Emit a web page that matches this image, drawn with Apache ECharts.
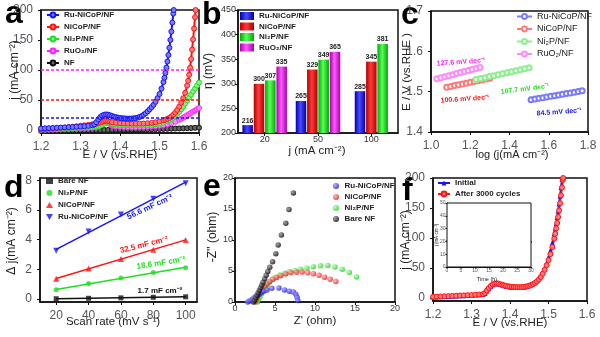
<!DOCTYPE html>
<html>
<head>
<meta charset="utf-8">
<script src="https://cdn.jsdelivr.net/npm/echarts@6/dist/echarts.min.js"></script>
<style>
  html, body { margin: 0; padding: 0; background: #fff; }
  #chart { width: 600px; height: 337px; }
</style>
</head>
<body>
<div id="chart"></div>
<script>
// ---------- (a) OER polarization curves: [E / V vs RHE, j / mA cm-2] ----------
const lsvRuNiCoP = [[1.20,2.5],[1.21,2.8],[1.22,3.1],[1.23,3.4],[1.24,3.7],[1.25,4.0],[1.26,4.3],[1.27,4.6],[1.28,5.0],[1.29,5.4],[1.30,5.8],[1.31,6.3],[1.32,6.9],[1.33,7.8],[1.335,9.5],[1.34,13],[1.345,17.5],[1.35,21.5],[1.355,24],[1.36,25.5],[1.365,26],[1.37,25.5],[1.375,24.5],[1.38,23.3],[1.385,22.2],[1.39,21.3],[1.395,20.6],[1.40,20],[1.405,19.6],[1.41,19.3],[1.415,19.1],[1.42,19],[1.425,19],[1.43,19.1],[1.435,19.4],[1.44,19.9],[1.445,20.7],[1.45,21.8],[1.455,23.3],[1.46,25.3],[1.465,27.8],[1.47,31],[1.475,34.5],[1.48,38],[1.485,42],[1.49,47],[1.495,53],[1.50,60],[1.505,69],[1.51,80],[1.5125,87],[1.515,95],[1.5175,104],[1.52,114],[1.5225,125],[1.525,137],[1.5275,150],[1.53,164],[1.5325,179],[1.535,194],[1.536,200]];
const lsvNiCoP = [[1.20,1.0],[1.21,1.5],[1.22,2.0],[1.23,2.5],[1.24,3.0],[1.25,3.6],[1.26,4.2],[1.27,4.8],[1.28,5.5],[1.29,6.2],[1.30,7.0],[1.31,7.8],[1.32,8.6],[1.33,9.5],[1.34,10.5],[1.345,11.5],[1.35,12.5],[1.355,13.6],[1.36,14.5],[1.365,15.0],[1.37,14.6],[1.375,13.8],[1.38,13.0],[1.39,12.0],[1.40,11.3],[1.41,11.0],[1.42,10.7],[1.43,10.6],[1.44,10.5],[1.45,10.6],[1.46,10.8],[1.47,11.2],[1.48,11.8],[1.49,12.8],[1.50,14.2],[1.51,16.0],[1.515,17.2],[1.52,18.5],[1.525,20.2],[1.53,22.5],[1.535,25.5],[1.54,29],[1.545,33.5],[1.55,39],[1.555,45.5],[1.56,53],[1.565,62],[1.57,74],[1.5725,82],[1.575,92],[1.5775,104],[1.58,118],[1.5825,134],[1.585,151],[1.5875,169],[1.59,188],[1.5915,200]];
const lsvNi2P = [[1.20,0.5],[1.21,0.7],[1.22,1.0],[1.23,1.3],[1.24,1.6],[1.25,1.9],[1.26,2.3],[1.27,2.6],[1.28,3.0],[1.29,3.4],[1.30,3.8],[1.31,4.2],[1.32,4.6],[1.33,5.0],[1.34,5.5],[1.345,6.2],[1.35,7.2],[1.355,8.8],[1.36,10.5],[1.365,11.8],[1.37,12.2],[1.375,11.4],[1.38,10.3],[1.385,9.6],[1.39,9.1],[1.40,8.6],[1.41,8.3],[1.42,8.1],[1.43,7.9],[1.44,7.8],[1.45,7.8],[1.46,8.0],[1.47,8.3],[1.48,8.8],[1.49,9.5],[1.50,10.5],[1.51,12.0],[1.52,14.5],[1.525,16.2],[1.53,18.3],[1.535,20.8],[1.54,23.6],[1.545,26.8],[1.55,30.5],[1.555,34.6],[1.56,39.2],[1.565,44],[1.57,49],[1.575,54],[1.58,59],[1.585,64],[1.59,69],[1.595,74],[1.60,79]];
const lsvRuO2 = [[1.20,0.3],[1.21,0.5],[1.22,0.7],[1.23,0.9],[1.24,1.1],[1.25,1.3],[1.26,1.5],[1.27,1.8],[1.28,2.0],[1.29,2.3],[1.30,2.6],[1.31,2.9],[1.32,3.2],[1.33,3.6],[1.34,4.5],[1.345,7.5],[1.35,12],[1.355,16],[1.36,18],[1.365,17],[1.37,13.5],[1.375,9.5],[1.38,7.2],[1.385,6.3],[1.39,5.8],[1.40,5.3],[1.41,5.0],[1.42,4.8],[1.43,4.7],[1.44,4.7],[1.45,4.8],[1.46,5.0],[1.47,5.3],[1.48,5.8],[1.49,6.3],[1.50,7.0],[1.51,8.0],[1.52,9.3],[1.53,11.2],[1.54,13.8],[1.55,17.0],[1.555,18.8],[1.56,20.7],[1.565,22.6],[1.57,24.6],[1.575,26.6],[1.58,28.6],[1.585,30.6],[1.59,32.6],[1.595,34.6],[1.60,36.6]];
const lsvNF = [[1.20,-1.5],[1.21,-1.4],[1.22,-1.3],[1.23,-1.2],[1.24,-1.1],[1.25,-1.0],[1.26,-0.9],[1.27,-0.8],[1.28,-0.7],[1.29,-0.6],[1.30,-0.5],[1.31,-0.4],[1.32,-0.3],[1.33,-0.2],[1.34,-0.1],[1.35,0.0],[1.36,0.1],[1.37,0.2],[1.38,0.3],[1.39,0.4],[1.40,0.5],[1.41,0.6],[1.42,0.7],[1.43,0.8],[1.44,0.9],[1.45,1.0],[1.46,1.1],[1.47,1.2],[1.48,1.35],[1.49,1.5],[1.50,1.65],[1.51,1.8],[1.52,2.0],[1.53,2.2],[1.54,2.4],[1.55,2.6],[1.56,2.8],[1.57,3.0],[1.58,3.3],[1.59,3.6],[1.60,3.9]];
const guideLevels = [100, 50, 20];

// ---------- (b) overpotentials at 20 / 50 / 100 mA cm-2 ----------
const currentLevels = ['20', '50', '100'];
const etaRuNiCoP = [216, 265, 285];
const etaNiCoP = [300, 329, 345];
const etaNi2P = [307, 349, 381];
const etaRuO2 = [335, 365, null];

// ---------- (c) Tafel plots: [log j, E] ----------
const tafelRuNiCoP = [[1.51,1.4800],[1.53,1.4817],[1.55,1.4834],[1.57,1.4851],[1.59,1.4868],[1.61,1.4885],[1.63,1.4901],[1.65,1.4918],[1.67,1.4935],[1.69,1.4952],[1.71,1.4969],[1.73,1.4986],[1.75,1.5003],[1.77,1.5020]];
const tafelNiCoP = [[1.08,1.5110],[1.10,1.5130],[1.12,1.5150],[1.14,1.5170],[1.16,1.5190],[1.18,1.5211],[1.20,1.5231],[1.22,1.5251],[1.24,1.5271],[1.26,1.5291],[1.28,1.5311],[1.30,1.5331]];
const tafelNi2P = [[1.23,1.5300],[1.2525,1.5324],[1.275,1.5348],[1.2975,1.5373],[1.32,1.5397],[1.3425,1.5421],[1.365,1.5445],[1.3875,1.5470],[1.41,1.5494],[1.4325,1.5518],[1.455,1.5542],[1.4775,1.5567],[1.50,1.5591]];
const tafelRuO2 = [[1.03,1.5320],[1.05,1.5346],[1.07,1.5371],[1.09,1.5397],[1.11,1.5422],[1.13,1.5448],[1.15,1.5473],[1.17,1.5499],[1.19,1.5524],[1.21,1.5550],[1.23,1.5575],[1.25,1.5601]];
const tafelSlopes = ['84.5', '100.6', '107.7', '127.6'];

// ---------- (d) double-layer capacitance ----------
const scanRates = [20, 40, 60, 80, 100];
const djBareNF = [0.02, 0.05, 0.08, 0.12, 0.15];
const djNi2P = [0.62, 1.04, 1.42, 1.78, 2.10];
const djNiCoP = [1.36, 2.06, 2.70, 3.32, 3.98];
const djRuNiCoP = [3.25, 4.55, 5.70, 6.75, 7.80];
const cdlValues = [1.7, 18.6, 32.5, 56.6]; // mF cm-2: Bare NF, Ni2P, NiCoP, Ru-NiCoP

// ---------- (e) Nyquist plots: [Z', -Z''] ----------
const eisRuNiCoP = [[1.6,0.0],[1.8,0.15],[2.0,0.3],[2.2,0.5],[2.4,0.7],[2.6,0.9],[2.8,1.1],[3.0,1.3],[3.3,1.55],[3.6,1.75],[4.0,1.95],[4.6,2.2],[5.5,2.25],[6.2,1.95],[6.8,1.75],[7.3,1.6],[7.6,1.25],[7.75,0.75],[7.85,0.25]];
const eisNiCoP = [[2.5,0.0],[2.65,0.4],[2.8,0.8],[3.0,1.25],[3.2,1.7],[3.45,2.15],[3.7,2.55],[4.0,2.95],[4.35,3.3],[4.75,3.65],[5.2,3.95],[5.75,4.25],[6.35,4.5],[7.0,4.7],[7.7,4.8],[8.4,4.85],[9.1,4.7],[9.8,4.55],[10.5,4.3],[11.2,4.0],[11.9,3.65],[12.6,3.3]];
const eisNi2P = [[2.8,0.0],[2.95,0.4],[3.1,0.8],[3.3,1.3],[3.5,1.8],[3.75,2.3],[4.0,2.75],[4.3,3.2],[4.7,3.65],[5.1,4.0],[5.6,4.35],[6.2,4.65],[6.8,4.9],[7.5,5.1],[8.2,5.3],[9.0,5.5],[9.8,5.7],[10.7,5.85],[11.6,5.9],[12.5,5.65],[13.4,5.3],[14.3,4.75],[15.2,4.05]];
const eisBareNF = [[2.3,0.0],[2.45,0.3],[2.6,0.7],[2.75,1.1],[2.9,1.5],[3.05,1.9],[3.2,2.3],[3.35,2.75],[3.5,3.2],[3.7,3.75],[3.9,4.3],[4.1,4.9],[4.35,5.6],[4.7,6.5],[5.1,7.8],[5.4,9.2],[5.8,10.8],[6.35,12.7],[6.75,14.9],[7.3,17.6]];

// ---------- (f) stability: LSV before / after 3000 cycles ----------
const lsvInitial = [[1.20,1.5],[1.21,1.8],[1.22,2.1],[1.23,2.4],[1.24,2.7],[1.25,3.0],[1.26,3.3],[1.27,3.6],[1.28,3.9],[1.29,4.2],[1.30,4.5],[1.31,4.9],[1.32,5.3],[1.33,6.0],[1.335,7.5],[1.34,11.5],[1.345,15.5],[1.35,19.5],[1.355,22],[1.36,23.5],[1.365,24],[1.37,23.5],[1.375,22.5],[1.38,21.5],[1.385,20.5],[1.39,19.7],[1.395,19.0],[1.40,18.5],[1.405,18.1],[1.41,17.8],[1.415,17.6],[1.42,17.5],[1.425,17.5],[1.43,17.7],[1.435,18.0],[1.44,18.6],[1.445,19.4],[1.45,20.5],[1.455,22],[1.46,23.8],[1.465,26],[1.47,29],[1.475,32.8],[1.48,37.5],[1.485,43.5],[1.49,50.5],[1.495,58.5],[1.50,68],[1.505,79],[1.51,92],[1.515,107],[1.5175,115.5],[1.52,124.5],[1.5225,134],[1.525,145],[1.5275,157],[1.53,170],[1.5325,184],[1.535,198],[1.5353,200]];
const lsvCycled = [[1.20,2.0],[1.21,2.3],[1.22,2.6],[1.23,2.9],[1.24,3.2],[1.25,3.5],[1.26,3.8],[1.27,4.1],[1.28,4.4],[1.29,4.7],[1.30,5.0],[1.31,5.4],[1.32,5.8],[1.33,6.5],[1.335,8.5],[1.34,12.5],[1.345,16.5],[1.35,20],[1.355,22.5],[1.36,24],[1.365,24.5],[1.37,24],[1.375,23],[1.38,22],[1.385,21],[1.39,20.2],[1.395,19.5],[1.40,19],[1.405,18.6],[1.41,18.3],[1.415,18.1],[1.42,18],[1.425,18],[1.43,18.1],[1.435,18.4],[1.44,18.9],[1.445,19.6],[1.45,20.5],[1.455,21.8],[1.46,23.3],[1.465,25.2],[1.47,27.5],[1.475,31],[1.48,35],[1.485,40.5],[1.49,47],[1.495,54.5],[1.50,63],[1.505,73],[1.51,85],[1.515,99],[1.5175,107],[1.52,116],[1.5225,125],[1.525,135],[1.5275,146],[1.53,158],[1.5325,171],[1.535,184],[1.5375,197],[1.538,200]];
const stabilityHours = [0,1,2,3,4,5,6,7,8,9,10,11,12,13,14,15,16,17,18,19,20,21,22,23,24,25,26,27,28,29,30];
const stabilityJ = [20.1,20.3,20.2,20.4,20.3,20.2,20.3,20.1,20.2,20.0,20.1,19.9,20.0,20.1,19.9,20.0,19.8,19.9,19.7,19.8,19.8,19.7,19.6,19.7,19.6,19.7,19.8,19.7,19.6,19.7,19.6];

// ---------- styling ----------
const FONT = "'Liberation Sans', Arial, Helvetica, sans-serif";
const COL = { blue: '#1414ff', red: '#ff1414', green: '#1ee01e', magenta: '#ff1eff', black: '#111111' };
const FILL = { blue: '#7a7aff', red: '#ff7a7a', green: '#8af08a', magenta: '#ff8aff', black: '#666666' };
const NAME = { ru: 'Ru-NiCoP/NF', nicop: 'NiCoP/NF', ni2p: 'Ni\u2082P/NF', ruo2: 'RuO\u2082/NF', nf: 'NF', bare: 'Bare NF' };
const TICK_FONT = 9;
const J_UNIT = 'j (mA cm\u207B\u00B2)';
const E_UNIT = 'E / V (vs.RHE)';

const chart = echarts.init(document.getElementById('chart'), null, { renderer: 'canvas' });

function grid(left, top, width, height, extra) {
  return Object.assign({ left, top, width, height, show: true, borderColor: '#111', borderWidth: 1.5, backgroundColor: 'transparent', containLabel: false }, extra || {});
}
function axis(gridIndex, extra) {
  const base = {
    gridIndex,
    axisLine: { show: true, onZero: false, lineStyle: { color: '#111', width: 1.5 } },
    axisTick: { show: true, length: 3, lineStyle: { color: '#111', width: 1 } },
    axisLabel: { color: '#333', fontSize: TICK_FONT, fontFamily: FONT, margin: 2 },
    splitLine: { show: false }
  };
  const out = Object.assign(base, extra);
  if (extra.axisLabel) out.axisLabel = Object.assign({}, base.axisLabel, extra.axisLabel);
  if (extra.axisTick) out.axisTick = Object.assign({ show: true, length: 3, lineStyle: { color: '#111', width: 1 } }, extra.axisTick);
  return out;
}
const fix1 = v => v.toFixed(1);

function curve(panel, name, data, key, xi, yi, extra) {
  return Object.assign({
    type: 'line', name: panel + '|' + name, xAxisIndex: xi, yAxisIndex: yi, data,
    symbol: 'circle', symbolSize: 5, showAllSymbol: true,
    lineStyle: { color: COL[key], width: 2 },
    itemStyle: { color: FILL[key], borderColor: COL[key], borderWidth: 1 },
    emphasis: { disabled: true }
  }, extra || {});
}
function legend(panel, names, left, top, extra) {
  return Object.assign({
    data: names.map(n => panel + '|' + n), orient: 'vertical', left, top,
    itemWidth: 12, itemHeight: 6, itemGap: 3.5, padding: 0, selectedMode: false,
    formatter: n => n.split('|')[1],
    textStyle: { fontSize: 8, fontWeight: 'bold', color: '#222', fontFamily: FONT }
  }, extra || {});
}
function barFill(dark, light) {
  return new echarts.graphic.LinearGradient(0, 0, 1, 0, [
    { offset: 0, color: dark }, { offset: 0.45, color: light }, { offset: 1, color: dark }
  ]);
}
function ball(base, light) {
  return new echarts.graphic.RadialGradient(0.35, 0.35, 0.7, [
    { offset: 0, color: light }, { offset: 1, color: base }
  ]);
}

// ---- panel (a) series ----
const seriesA = [
  curve('a', NAME.nf, lsvNF, 'black', 0, 0, {
    markLine: {
      silent: true, symbol: 'none', label: { show: false }, animation: false,
      data: guideLevels.map((v, i) => ({ yAxis: v, lineStyle: { color: [COL.magenta, COL.red, COL.blue][i], type: [3, 2], width: 1.6 } }))
    }
  }),
  curve('a', NAME.ruo2, lsvRuO2, 'magenta', 0, 0),
  curve('a', NAME.ni2p, lsvNi2P, 'green', 0, 0),
  curve('a', NAME.nicop, lsvNiCoP, 'red', 0, 0),
  curve('a', NAME.ru, lsvRuNiCoP, 'blue', 0, 0)
];

// ---- panel (b) series: full groups on one axis, partial groups on a twin axis ----
const etaSets = [
  { name: NAME.ru, values: etaRuNiCoP, fill: barFill('#0000a8', '#4a4aff') },
  { name: NAME.nicop, values: etaNiCoP, fill: barFill('#b00000', '#ff3a3a') },
  { name: NAME.ni2p, values: etaNi2P, fill: barFill('#00a800', '#5aff5a') },
  { name: NAME.ruo2, values: etaRuO2, fill: barFill('#a800a8', '#ff5aff') }
];
const fullGroup = currentLevels.map((_, i) => etaSets.every(s => s.values[i] != null));
function barSeries(set, name, xi, keep) {
  return {
    type: 'bar', name, xAxisIndex: xi, yAxisIndex: 1,
    data: set.values.map((v, i) => (keep(i) && v != null) ? v : null),
    barWidth: 10.5, barGap: '8%',
    itemStyle: { color: set.fill },
    label: { show: true, position: 'top', distance: 1, fontSize: 7, fontWeight: 'bold', color: '#222', fontFamily: FONT },
    emphasis: { disabled: true }
  };
}
const seriesB = [];
etaSets.forEach(s => seriesB.push(barSeries(s, 'b|' + s.name, 1, i => fullGroup[i])));
etaSets.forEach(s => {
  if (s.values.some((v, i) => !fullGroup[i] && v != null)) seriesB.push(barSeries(s, 'b2|' + s.name, 2, i => !fullGroup[i]));
});

// ---- panel (c) series ----
function tafel(name, data, key) {
  return {
    type: 'line', name: 'c|' + name, xAxisIndex: 3, yAxisIndex: 2, data,
    symbol: 'emptyCircle', symbolSize: 5,
    lineStyle: { color: FILL[key], width: 1 },
    itemStyle: { color: FILL[key], borderColor: FILL[key], borderWidth: 1 },
    emphasis: { disabled: true }
  };
}
const seriesC = [
  tafel(NAME.ru, tafelRuNiCoP, 'blue'),
  tafel(NAME.nicop, tafelNiCoP, 'red'),
  tafel(NAME.ni2p, tafelNi2P, 'green'),
  tafel(NAME.ruo2, tafelRuO2, 'magenta')
];

// ---- panel (d) series: points plus lines whose slope is the stated Cdl ----
const cdlSets = [
  { name: NAME.bare, values: djBareNF, key: 'black', symbol: 'rect', size: 5 },
  { name: NAME.ni2p, values: djNi2P, key: 'green', symbol: 'circle', size: 5 },
  { name: NAME.nicop, values: djNiCoP, key: 'red', symbol: 'triangle', size: 6 },
  { name: NAME.ru, values: djRuNiCoP, key: 'blue', symbol: 'path://M0,0L2,0L1,1.7Z', size: 6 }
];
const seriesD = [];
cdlSets.forEach((s, k) => {
  const slope = cdlValues[k] / 1000;
  const mx = scanRates.reduce((a, b) => a + b, 0) / scanRates.length;
  const my = s.values.reduce((a, b) => a + b, 0) / s.values.length;
  const x0 = scanRates[0], x1 = scanRates[scanRates.length - 1];
  seriesD.push({
    type: 'line', name: 'dfit|' + s.name, xAxisIndex: 4, yAxisIndex: 3,
    data: [[x0, my + slope * (x0 - mx)], [x1, my + slope * (x1 - mx)]],
    symbol: 'none', lineStyle: { color: COL[s.key], width: 1.5 }, silent: true, z: 2
  });
});
cdlSets.forEach(s => {
  seriesD.push({
    type: 'scatter', name: 'd|' + s.name, xAxisIndex: 4, yAxisIndex: 3,
    data: scanRates.map((x, i) => [x, s.values[i]]),
    symbol: s.symbol, symbolSize: s.size, itemStyle: { color: COL[s.key] }, z: 3,
    emphasis: { disabled: true }
  });
});

// ---- panel (e) series ----
function nyquist(name, data, base, light) {
  return {
    type: 'scatter', name: 'e|' + name, xAxisIndex: 5, yAxisIndex: 4, data,
    symbol: 'circle', symbolSize: 5.5, itemStyle: { color: ball(base, light) },
    emphasis: { disabled: true }
  };
}
const seriesE = [
  nyquist(NAME.ni2p, eisNi2P, '#18d018', '#b0ffb0'),
  nyquist(NAME.nicop, eisNiCoP, '#f01010', '#ffb0b0'),
  nyquist(NAME.ru, eisRuNiCoP, '#1010f0', '#a0a0ff'),
  nyquist(NAME.bare, eisBareNF, '#000000', '#909090')
];

// ---- panel (f) series ----
const seriesF = [
  curve('f', 'Initial', lsvInitial, 'blue', 6, 5, { symbol: 'triangle', symbolSize: 5, itemStyle: { color: COL.blue } }),
  curve('f', 'After 3000 cycles', lsvCycled, 'red', 6, 5, { symbolSize: 5 }),
  {
    type: 'line', name: 'inset', xAxisIndex: 7, yAxisIndex: 6,
    data: stabilityHours.map((t, i) => [t, stabilityJ[i]]),
    symbol: 'circle', symbolSize: 2, lineStyle: { color: '#222', width: 1 }, itemStyle: { color: '#222' },
    emphasis: { disabled: true }
  }
];

// ---- text: panel letters, axis titles, slope notes ----
function note(text, x, y, color, deg, size, weight) {
  return {
    type: 'text', x, y, rotation: deg * Math.PI / 180, silent: true, z: 10,
    style: { text, fill: color, font: (weight || 'bold') + ' ' + (size || 8) + 'px ' + FONT, align: 'center', verticalAlign: 'middle' }
  };
}
function xTitle(text, x, y, size) { return note(text, x, y, '#222', 0, size || 11.5, 'normal'); }
function yTitle(text, x, y, size) { return note(text, x, y, '#222', 90, size || 12, 'normal'); }
function letter(text, x, y) {
  return { type: 'text', x, y, silent: true, style: { text, fill: '#000', font: 'bold 32px ' + FONT, align: 'left', verticalAlign: 'top' } };
}
const axisTitles = [
  xTitle(E_UNIT, 120, 155), yTitle(J_UNIT, 15, 70),
  xTitle(J_UNIT, 317, 151), yTitle('\u03B7 (mV)', 209, 71),
  xTitle('log (j(mA cm\u207B\u00B2)', 512, 155, 11), yTitle('E / V (vs.RHE )', 407, 72, 11.5),
  xTitle('Scan rate (mV s\u207B\u00B9)', 113, 322), yTitle('\u0394 j(mA cm\u207B\u00B2)', 12, 241),
  xTitle("Z' (ohm)", 315, 321), yTitle("-Z'' (ohm)", 213, 237),
  xTitle(E_UNIT, 510, 323), yTitle(J_UNIT, 406, 240),
  xTitle('Time (h)', 487, 279, 5.5), yTitle(J_UNIT, 437, 235, 4.5)
];
const tafelNotes = [
  note(tafelSlopes[3] + ' mV dec\u207B\u00B9', 461, 62, COL.magenta, 4, 7),
  note(tafelSlopes[1] + ' mV dec\u207B\u00B9', 465, 99, COL.red, 4, 7),
  note(tafelSlopes[2] + ' mV dec\u207B\u00B9', 525, 89, COL.green, 7, 7),
  note(tafelSlopes[0] + ' mV dec\u207B\u00B9', 559, 112, COL.blue, 4, 7)
];
const cdlNotes = [
  note(cdlValues[3] + ' mF cm\u207B\u00B2', 150, 207, COL.blue, 25),
  note(cdlValues[2] + ' mF cm\u207B\u00B2', 144, 245, COL.red, 14),
  note(cdlValues[1] + ' mF cm\u207B\u00B2', 161, 263, COL.green, 9),
  note(cdlValues[0] + ' mF cm\u207B\u00B2', 160, 291, COL.black, 0)
];

const option = {
  animation: false,
  backgroundColor: '#fff',
  textStyle: { fontFamily: FONT },
  grid: [
    grid(41, 10, 158, 123),
    grid(238, 10, 160, 123),
    grid(431, 11, 157, 121),
    grid(40, 178, 157, 124),
    grid(235, 178, 160, 124),
    grid(433, 178, 154, 123),
    grid(447, 203, 84, 64, { backgroundColor: '#fff', borderWidth: 1, z: 5 })
  ],
  xAxis: [
    axis(0, { type: 'value', min: 1.2, max: 1.6, interval: 0.1, axisLabel: { formatter: fix1 } }),
    axis(1, { type: 'category', data: currentLevels, axisTick: { alignWithLabel: true } }),
    axis(1, { type: 'category', data: currentLevels, show: false }),
    axis(2, { type: 'value', min: 1.0, max: 1.8, interval: 0.2, axisLabel: { formatter: fix1 } }),
    axis(3, { type: 'value', min: 10, max: 107, axisLabel: { customValues: scanRates }, axisTick: { customValues: scanRates } }),
    axis(4, { type: 'value', min: 0, max: 20, interval: 5 }),
    axis(5, { type: 'value', min: 1.2, max: 1.6, interval: 0.1, axisLabel: { formatter: fix1 } }),
    axis(6, { type: 'value', min: 0, max: 30, interval: 5, axisLine: { show: true, onZero: false, lineStyle: { color: '#111', width: 1 } }, axisTick: { length: 1.5 }, axisLabel: { fontSize: 5, margin: 1.5 } })
  ],
  yAxis: [
    axis(0, { type: 'value', min: -5, max: 200, axisLabel: { customValues: [0, 50, 100, 150, 200] }, axisTick: { customValues: [0, 50, 100, 150, 200] } }),
    axis(1, { type: 'value', min: 200, max: 450, interval: 50 }),
    axis(2, { type: 'value', min: 1.4, max: 1.7, interval: 0.1, axisLabel: { formatter: fix1 } }),
    axis(3, { type: 'value', min: -0.2, max: 8.15, axisLabel: { customValues: [0, 2, 4, 6, 8] }, axisTick: { customValues: [0, 2, 4, 6, 8] } }),
    axis(4, { type: 'value', min: 0, max: 20, interval: 5 }),
    axis(5, { type: 'value', min: -5, max: 200, axisLabel: { customValues: [0, 50, 100, 150, 200] }, axisTick: { customValues: [0, 50, 100, 150, 200] } }),
    axis(6, { type: 'value', min: 0, max: 50, interval: 10, axisLine: { show: true, onZero: false, lineStyle: { color: '#111', width: 1 } }, axisTick: { length: 1.5 }, axisLabel: { fontSize: 5, margin: 1.5 } })
  ],
  legend: [
    legend('a', [NAME.ru, NAME.nicop, NAME.ni2p, NAME.ruo2, NAME.nf], 46, 11, { itemGap: 4 }),
    legend('b', etaSets.map(s => s.name), 240, 12, { icon: 'rect', itemWidth: 14, itemHeight: 8, itemGap: 2.5 }),
    legend('c', [NAME.ru, NAME.nicop, NAME.ni2p, NAME.ruo2], 516, 12, { itemWidth: 15, itemHeight: 6, itemGap: 3.5, textStyle: { fontSize: 9, color: '#222', fontFamily: FONT } }),
    legend('d', cdlSets.map(s => s.name), 46, 177, { itemWidth: 7, itemHeight: 6, itemGap: 4 }),
    legend('e', [NAME.ru, NAME.nicop, NAME.ni2p, NAME.bare], 333, 182, { itemWidth: 7, itemHeight: 6, itemGap: 3 }),
    legend('f', ['Initial', 'After 3000 cycles'], 437, 179, { itemWidth: 12, itemHeight: 6, itemGap: 3 })
  ],
  series: [].concat(seriesA, seriesB, seriesC, seriesD, seriesE, seriesF),
  graphic: [
    letter('a', 5, -2), letter('b', 202, -1), letter('c', 401, -1),
    letter('d', 4, 172), letter('e', 203, 171), letter('f', 402, 175)
  ].concat(axisTitles, tafelNotes, cdlNotes)
};

chart.setOption(option);
</script>
</body>
</html>
